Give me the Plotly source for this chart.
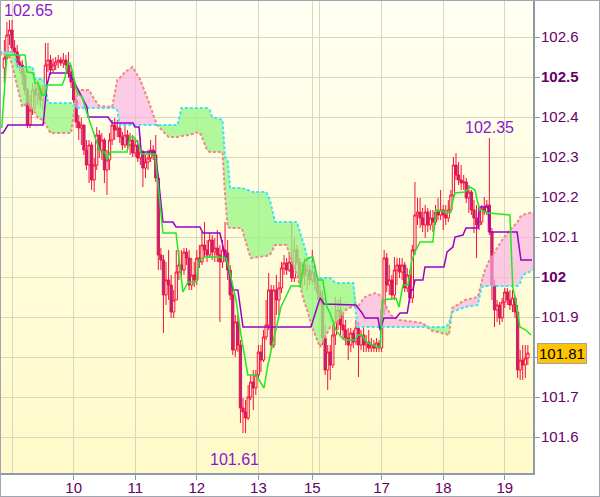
import numpy as np
import plotly.graph_objects as go

# ---------------- data ----------------
hours = list(range(-3, 202))
first_open = 102.5225
close = [
    102.5475, 102.605, 102.6175, 102.5725, 102.5625, 102.5375, 102.53, 102.505, 102.4675, 102.38, 102.4175, 102.4675,
    102.455, 102.4725, 102.4425, 102.4625, 102.53, 102.5425, 102.5175, 102.53, 102.5375, 102.5425, 102.535, 102.5425,
    102.53, 102.5125, 102.4875, 102.4425, 102.3875, 102.3725, 102.38, 102.3175, 102.28, 102.33, 102.2425, 102.28,
    102.355, 102.3175, 102.3425, 102.2675, 102.2925, 102.3425, 102.38, 102.3675, 102.3725, 102.35, 102.33, 102.355,
    102.33, 102.3425, 102.31, 102.33, 102.2975, 102.3125, 102.2725, 102.2875, 102.2975, 102.3175, 102.305, 102.2475,
    102.055, 102.0425, 101.955, 101.9925, 101.98, 101.9125, 101.9425, 102.0125, 102.03, 102.0175, 102.0625, 102.0475,
    101.98, 102.005, 101.9925, 102.0475, 102.0375, 102.08, 102.0675, 102.055, 102.0925, 102.0625, 102.0725, 102.055,
    102.0375, 102.0675, 102.06, 102.0175, 101.955, 101.8175, 101.8875, 101.83, 101.6725, 101.6625, 101.6475, 101.7,
    101.7375, 101.7225, 101.755, 101.8125, 101.7925, 101.85, 101.88, 101.9675, 101.83, 101.9675, 101.9425, 101.9725,
    102.0225, 102.035, 102.0175, 102.0375, 101.9975, 102.0675, 102.0375, 101.9975, 102.03, 102.005, 102.0175, 101.9925,
    102.0125, 101.9875, 101.9625, 101.9475, 101.8475, 101.7675, 101.8125, 101.78, 101.855, 101.8875, 101.9175, 101.88,
    101.8675, 101.8475, 101.83, 101.86, 101.8375, 101.8725, 101.83, 101.855, 101.83, 101.8375, 101.8225, 101.83,
    101.8225, 101.835, 101.8225, 101.9175, 102.0475, 101.98, 101.9925, 101.955, 102.0175, 102.03, 102.0125, 102.03,
    101.9725, 102.005, 101.9475, 102.0675, 102.155, 102.1625, 102.1475, 102.13, 102.1625, 102.13, 102.1475, 102.1375,
    102.1625, 102.155, 102.1675, 102.155, 102.1475, 102.1675, 102.205, 102.28, 102.255, 102.2425, 102.235, 102.2375,
    102.1975, 102.2125, 102.1675, 102.1475, 102.13, 102.1375, 102.1725, 102.1625, 102.18, 102.1125, 101.98, 101.9175,
    101.93, 101.8975, 101.9375, 101.9625, 101.9425, 101.93, 101.9475, 101.9125, 101.7675, 101.7925, 101.78, 101.7975, 101.81,
]
high = [
    102.5925, 102.6375, 102.6425, 102.6425, 102.5925, 102.58, 102.555, 102.5425, 102.5175, 102.4725, 102.455, 102.485,
    102.4875, 102.4925, 102.48, 102.48, 102.585, 102.585, 102.555, 102.5475, 102.55, 102.555, 102.55, 102.56,
    102.555, 102.5625, 102.53, 102.4975, 102.4475, 102.405, 102.3975, 102.38, 102.3425, 102.3425, 102.3375, 102.2975,
    102.375, 102.3675, 102.36, 102.3475, 102.3175, 102.36, 102.3925, 102.3975, 102.3925, 102.38, 102.3625, 102.38,
    102.3675, 102.36, 102.355, 102.3475, 102.3425, 102.35, 102.3175, 102.305, 102.3175, 102.3425, 102.33, 102.355,
    102.255, 102.0725, 102.055, 102.0375, 102.0675, 102.005, 101.9675, 102.0675, 102.0675, 102.0675, 102.0725, 102.0725,
    102.0675, 102.0475, 102.0375, 102.0675, 102.08, 102.1125, 102.1375, 102.0925, 102.11, 102.105, 102.0975, 102.1175,
    102.08, 102.0925, 102.1375, 102.0925, 102.03, 101.9675, 101.905, 101.905, 101.8425, 101.6975, 101.6925, 101.73,
    101.755, 101.7675, 101.7675, 101.83, 101.83, 101.8675, 101.9425, 102.01, 101.98, 101.98, 102.005, 101.9875,
    102.0375, 102.055, 102.0475, 102.055, 102.135, 102.0975, 102.08, 102.0475, 102.0375, 102.0475, 102.0475, 102.03,
    102.0675, 102.03, 101.9975, 101.98, 101.9675, 101.88, 101.83, 101.83, 101.88, 101.95, 101.9425, 101.95,
    101.905, 101.8925, 101.8725, 101.8725, 101.8675, 101.8925, 101.8875, 101.8675, 101.8725, 101.855, 101.8675, 101.8475,
    101.8425, 101.8475, 101.8425, 101.9425, 102.0675, 102.06, 102.03, 102.005, 102.05, 102.0475, 102.0475, 102.0475,
    102.0375, 102.0225, 102.0175, 102.08, 102.2375, 102.1975, 102.1975, 102.1725, 102.18, 102.1725, 102.1675, 102.1675,
    102.18, 102.1975, 102.2175, 102.18, 102.18, 102.1925, 102.2175, 102.3, 102.31, 102.2875, 102.28, 102.255,
    102.2475, 102.23, 102.2175, 102.1925, 102.18, 102.1625, 102.18, 102.2, 102.1925, 102.3475, 102.1225, 101.9925,
    101.9425, 101.9375, 101.9475, 101.9725, 101.9725, 101.9675, 101.9675, 101.955, 101.93, 101.8175, 101.83, 101.83, 101.83,
]
low = [
    102.485, 102.5425, 102.58, 102.555, 102.5525, 102.5225, 102.51, 102.48, 102.455, 102.3725, 102.3725, 102.405,
    102.4175, 102.43, 102.4225, 102.4175, 102.455, 102.5125, 102.505, 102.5125, 102.5175, 102.5225, 102.5275, 102.5225,
    102.5175, 102.4975, 102.4725, 102.435, 102.3725, 102.3425, 102.33, 102.305, 102.2675, 102.235, 102.2175, 102.2125,
    102.2675, 102.2975, 102.2925, 102.235, 102.205, 102.2675, 102.33, 102.3425, 102.35, 102.335, 102.3175, 102.3225,
    102.3175, 102.305, 102.3, 102.3, 102.2875, 102.28, 102.225, 102.2475, 102.2675, 102.2875, 102.2925, 102.2375,
    102.0175, 102.0175, 101.86, 101.93, 101.9425, 101.8975, 101.8975, 101.9425, 101.9925, 101.9925, 102.005, 102.03,
    101.9675, 101.9675, 101.975, 101.98, 102.0225, 102.03, 102.0475, 102.0375, 102.0475, 102.0425, 102.0375, 102.0375,
    101.8875, 102.0225, 102.0375, 101.9925, 101.9425, 101.805, 101.8, 101.8125, 101.635, 101.61, 101.61, 101.6425,
    101.6925, 101.6675, 101.705, 101.7425, 101.7625, 101.7875, 101.8425, 101.8675, 101.8175, 101.8225, 101.905, 101.905,
    101.96, 102.005, 102.005, 102.0125, 101.9875, 101.9875, 102.03, 101.985, 101.9675, 101.98, 101.9675, 101.98,
    101.98, 101.9675, 101.9425, 101.93, 101.83, 101.755, 101.7175, 101.7425, 101.7725, 101.83, 101.8675, 101.855,
    101.8425, 101.83, 101.7925, 101.8125, 101.8225, 101.83, 101.75, 101.8175, 101.8125, 101.8125, 101.8125, 101.8125,
    101.8125, 101.8125, 101.8125, 101.8125, 101.905, 101.9625, 101.955, 101.9425, 101.9425, 101.98, 101.9975, 101.9925,
    101.9625, 101.9625, 101.935, 101.935, 102.055, 102.13, 102.1225, 102.1125, 102.0975, 102.1125, 102.1175, 102.1125,
    102.13, 102.1425, 102.1425, 102.1175, 102.13, 102.1375, 102.16, 102.2, 102.2425, 102.23, 102.2175, 102.2175,
    102.185, 102.16, 102.155, 102.11, 102.0475, 102.1175, 102.13, 102.155, 102.155, 102.105, 101.9425, 101.875,
    101.8875, 101.88, 101.8875, 101.9225, 101.93, 101.9175, 101.9125, 101.8975, 101.7475, 101.7425, 101.7425, 101.7475, 101.78,
]
opens = [first_open] + close[:-1]

tenkan_h = [-4, -2, 5.1, 5.8, 8.2, 9, 10.1, 11.7, 12.9, 13.6, 19.5, 20.6, 21.8, 22.6, 23.4, 25.3, 27.3, 29.2,
            33.1, 34.3, 36.2, 37, 38.2, 44.8, 46, 47.5, 49.5, 50.3, 55.7, 58.8, 63.9, 66.6, 68.6, 71.7, 72.9,
            75.2, 79.5, 83.4, 84.9, 87.3, 89.2, 91.9, 95.1, 98.2, 99.7, 102.5, 104.8, 108.7, 112.2, 113.8, 115.3,
            117.2, 119.2, 121.1, 122.7, 123.9, 125.1, 126.2, 128.2, 129.7, 133.6, 134.8, 136.4, 137.5, 138.7,
            143.4, 144.5, 149.6, 150.8, 152.3, 154.3, 155.8, 157.4, 159, 164, 165.2, 170.6, 172.6, 176.5, 178.4,
            180.4, 181.2, 182.4, 185.5, 194, 195.1, 196.4, 197.9, 200.2, 202.2]
tenkan = [102.3725, 102.555, 102.555, 102.5125, 102.51, 102.485, 102.485, 102.455, 102.455, 102.48, 102.48,
          102.4975, 102.5375, 102.535, 102.5175, 102.46, 102.45, 102.41, 102.335, 102.3125, 102.3125, 102.2925,
          102.3125, 102.3125, 102.35, 102.35, 102.33, 102.3075, 102.3075, 102.11, 102.11, 101.9625, 101.9875,
          101.9875, 102.0425, 102.05, 102.05, 102.0475, 102.01, 101.9425, 101.855, 101.755, 101.755, 101.7225,
          101.78, 101.86, 101.925, 101.9775, 101.9775, 102.0375, 102.0475, 102.05, 101.9925, 101.9925, 101.925,
          101.91, 101.885, 101.8675, 101.85, 101.8425, 101.8425, 101.855, 101.855, 101.8425, 101.835, 101.8225,
          101.9425, 101.9475, 101.925, 101.98, 101.98, 102.0425, 102.0675, 102.0875, 102.0875, 102.1675, 102.16,
          102.21, 102.2125, 102.225, 102.2175, 102.1925, 102.1675, 102.16, 102.155, 101.975, 101.935, 101.875,
          101.8675, 101.855]

kijun_h = [-4.7, -3.5, -1.6, 12.1, 13.6, 14.8, 21.8, 23.8, 29.2, 29.6, 37.4, 39, 47.1, 47.9, 49.5, 50.3, 55.7,
           56.9, 58.8, 62.7, 63.9, 73.2, 74.4, 81, 86.1, 88, 90, 116.5, 117.7, 120, 121.6, 134, 136.4, 137.5,
           142.6, 143.4, 144.9, 149.6, 151.2, 154, 155.4, 156.2, 157, 160.1, 160.9, 168.3, 169.5, 171.8, 172.6,
           175.7, 176.9, 181.6, 182, 185.5, 186.2, 196.8, 198.3, 202.6]
kijun = [102.36, 102.36, 102.38, 102.38, 102.48, 102.51, 102.51, 102.4925, 102.425, 102.4, 102.4, 102.385,
         102.385, 102.375, 102.375, 102.3125, 102.3125, 102.255, 102.1375, 102.1375, 102.125, 102.125, 102.11,
         102.11, 101.9675, 101.9675, 101.875, 101.875, 101.9, 101.9475, 101.9325, 101.93, 101.91, 101.8975,
         101.8975, 101.8675, 101.8975, 101.8975, 101.91, 101.91, 101.9675, 101.9675, 101.9925, 101.9925, 102.025,
         102.025, 102.0625, 102.075, 102.1, 102.105, 102.1225, 102.1225, 102.175, 102.175, 102.1125, 102.1125,
         102.0425, 102.0425]

cloud_h = [-5, -1, 0, 1, 2, 4, 6, 8, 9, 10, 12, 13, 14, 15, 23, 24, 25, 26, 30, 32, 34, 39, 40, 41, 42, 44, 47,
           50, 53, 56.5, 61, 64.5, 66, 69, 73, 74, 76, 77, 78, 82, 83, 84, 85, 89.5, 92, 93, 99, 100.5, 102.5,
           107, 109, 111, 114, 115, 117, 119, 120, 124, 126, 130, 133, 134.5, 137.5, 141.5, 144, 145.5, 147.5,
           151, 160, 163, 169, 170.3, 171.5, 176.5, 181.5, 183, 184, 186, 191, 194, 197, 198, 199, 203]
senkou_a = [102.5625, 102.5625, 102.5625, 102.555, 102.525, 102.525, 102.525, 102.525, 102.495, 102.495,
            102.495, 102.48, 102.435, 102.435, 102.435, 102.43, 102.4225, 102.4225, 102.4225, 102.4225,
            102.4225, 102.4225, 102.4225, 102.4175, 102.38, 102.38, 102.38, 102.38, 102.38, 102.38,
            102.38, 102.38, 102.4225, 102.4225, 102.4225, 102.4225, 102.4225, 102.4175, 102.4, 102.3925,
            102.3, 102.2925, 102.2225, 102.2225, 102.2175, 102.2125, 102.2125, 102.1925, 102.1375, 102.1375,
            102.1375, 102.1375, 102.075, 102.05, 102.0375, 101.9975, 101.9975, 101.9975, 101.985, 101.985,
            101.985, 101.875, 101.875, 101.875, 101.875, 101.875, 101.875, 101.875, 101.875, 101.875,
            101.875, 101.885, 101.9125, 101.925, 101.93, 101.975, 101.9775, 101.9775, 101.9775, 101.9775,
            101.9775, 101.985, 102.005, 102.0175]
senkou_b = [102.5575, 102.5525, 102.53, 102.5025, 102.475, 102.425, 102.435, 102.4175, 102.41, 102.3975,
            102.3925, 102.3825, 102.3725, 102.36, 102.36, 102.405, 102.45, 102.4675, 102.4675, 102.445,
            102.4275, 102.425, 102.455, 102.4925, 102.4975, 102.5125, 102.525, 102.4925, 102.4425, 102.38,
            102.35, 102.35, 102.3525, 102.355, 102.3625, 102.35, 102.3175, 102.3125, 102.3125, 102.3125,
            102.205, 102.125, 102.1225, 102.1225, 102.0675, 102.0475, 102.0525, 102.055, 102.08, 102.08,
            102.0375, 102.005, 101.935, 101.9175, 101.8725, 101.8425, 101.825, 101.875, 101.8825, 101.9175,
            101.9275, 101.925, 101.95, 101.96, 101.9525, 101.93, 101.905, 101.8925, 101.885, 101.8675,
            101.8575, 101.855, 101.9225, 101.9425, 101.95, 101.985, 102.0125, 102.0425, 102.0925, 102.1175,
            102.1375, 102.15, 102.155, 102.1625]

day_ticks = [24, 48, 72, 96, 117, 144, 168, 192]
day_labels = ["10", "11", "12", "13", "15", "17", "18", "19"]
day_grid_extra = [0, 120]
price_ticks = [101.6, 101.7, 101.8, 101.9, 102.0, 102.1, 102.2, 102.3, 102.4, 102.5, 102.6]
price_labels = ["101.6", "101.7", "", "101.9", "<b>102</b>", "102.1", "102.2", "102.3", "102.4", "<b>102.5</b>", "102.6"]
extreme_labels = ["102.65", "102.35", "101.61"]

# ---------------- styling ----------------
FONT = "Liberation Sans, Arial, sans-serif"
RED = "#f5103c"
DOWN_FILL = "#9a2e9a"
GREEN_LINE = "#22e822"
PURPLE_LINE = "#9900cc"
CYAN = "#3ee4f4"
SALMON = "#f08888"
GREEN_FILL = "rgba(150,245,130,0.75)"
PINK_FILL = "rgba(250,175,228,0.65)"
GRID = "#d8d8bf"
AXIS = "#8e9ba6"
TICK_COL = "#660066"
NOTE_COL = "#8a18cc"

fig = go.Figure()

A = np.array(senkou_a)
B = np.array(senkou_b)
top = np.maximum(A, B)
common = dict(mode="lines", hoverinfo="skip", showlegend=False)
fig.add_trace(go.Scatter(x=cloud_h, y=A, line=dict(width=0), **common))
fig.add_trace(go.Scatter(x=cloud_h, y=top, line=dict(width=0), fill="tonexty", fillcolor=PINK_FILL, **common))
fig.add_trace(go.Scatter(x=cloud_h, y=B, line=dict(width=0), **common))
fig.add_trace(go.Scatter(x=cloud_h, y=top, line=dict(width=0), fill="tonexty", fillcolor=GREEN_FILL, **common))
fig.add_trace(go.Scatter(x=cloud_h, y=B, line=dict(color=SALMON, width=2, dash="3px,2px"), **common))
fig.add_trace(go.Scatter(x=cloud_h, y=A, line=dict(color=CYAN, width=2, dash="3px,2px"), **common))

fig.add_trace(go.Candlestick(
    x=hours, open=opens, high=high, low=low, close=close,
    increasing=dict(line=dict(color=RED, width=1), fillcolor="rgba(0,0,0,0)"),
    decreasing=dict(line=dict(color=RED, width=1), fillcolor=DOWN_FILL),
    whiskerwidth=0, hoverinfo="skip", showlegend=False,
))

fig.add_trace(go.Scatter(x=kijun_h, y=kijun, line=dict(color=PURPLE_LINE, width=1.5), **common))
fig.add_trace(go.Scatter(x=tenkan_h, y=tenkan, line=dict(color=GREEN_LINE, width=1.5), **common))

# background gradient (ivory -> lemon chiffon)
shapes = []
nb = 48
c_top = np.array([255, 255, 242])
c_bot = np.array([255, 250, 200])
for i in range(nb):
    t = (i + 0.5) / nb
    c = c_top * (1 - t) + c_bot * t
    shapes.append(dict(type="rect", xref="paper", yref="paper", x0=0, x1=1,
                       y0=1 - (i + 1) / nb, y1=1 - i / nb + 0.001, layer="below",
                       line=dict(width=0), fillcolor="rgb(%d,%d,%d)" % tuple(c.round())))
# outer frame
pw, ph = 600 - 1 - 67, 497 - 1 - 24
shapes.append(dict(type="rect", xref="paper", yref="paper",
                   x0=-1 / pw, x1=1 + 67 / pw, y0=-24 / ph, y1=1 + 1 / ph,
                   line=dict(color="#9ca7b1", width=2), layer="above"))

hi_i = hours.index(186)
lo_i = int(np.argmin(low))
annotations = [
    dict(xref="paper", yref="paper", x=0, y=1, xanchor="left", yanchor="top", showarrow=False,
         text=extreme_labels[0], font=dict(family=FONT, size=16, color=NOTE_COL), xshift=1, yshift=1),
    dict(x=hours[hi_i], y=high[hi_i], xanchor="center", yanchor="bottom", showarrow=False,
         text=extreme_labels[1], font=dict(family=FONT, size=16, color=NOTE_COL), yshift=0),
    dict(x=hours[lo_i], y=low[lo_i], xanchor="center", yanchor="top", showarrow=False,
         text=extreme_labels[2], font=dict(family=FONT, size=16, color=NOTE_COL), xshift=-9, yshift=-16),
    dict(xref="paper", yref="y", x=1, y=close[-1], xanchor="left", yanchor="middle", showarrow=False,
         text="%.2f" % close[-1], font=dict(family=FONT, size=15, color="#000000"),
         bgcolor="#ffc600", bordercolor="#9aa2aa", borderwidth=1, borderpad=1, xshift=4),
]

fig.update_layout(
    width=600, height=497,
    margin=dict(l=1, r=67, t=1, b=24),
    paper_bgcolor="#ffffff", plot_bgcolor="#fffde6",
    showlegend=False, hovermode=False,
    font=dict(family=FONT, size=15, color=TICK_COL),
    shapes=shapes, annotations=annotations,
    boxgap=0.12, boxgroupgap=0.0,
)
fig.update_xaxes(
    range=[-4.3, 203], rangeslider_visible=False, automargin=False,
    tickmode="array", tickvals=day_ticks, ticktext=day_labels,
    showgrid=True, gridcolor=GRID, gridwidth=1,
    ticks="outside", ticklen=5, tickcolor=AXIS,
    showline=True, linecolor=AXIS, linewidth=2, zeroline=False,
    minor=dict(tickmode="array", tickvals=day_grid_extra, showgrid=True, gridcolor=GRID, ticks=""),
    tickfont=dict(family=FONT, size=15, color=TICK_COL),
    ticklabelstandoff=-5,
)
fig.update_yaxes(
    side="right", range=[101.51, 102.69], automargin=False,
    tickmode="array", tickvals=price_ticks, ticktext=price_labels,
    showgrid=True, gridcolor=GRID, gridwidth=1,
    ticks="outside", ticklen=5, tickcolor=AXIS,
    showline=True, linecolor=AXIS, linewidth=2, zeroline=False,
    tickfont=dict(family=FONT, size=15, color=TICK_COL),
    ticklabelstandoff=-2,
)

fig.write_html("out.html", config={"displayModeBar": False, "staticPlot": True},
               post_script="document.body.style.margin='0px';document.body.style.padding='0px';")
